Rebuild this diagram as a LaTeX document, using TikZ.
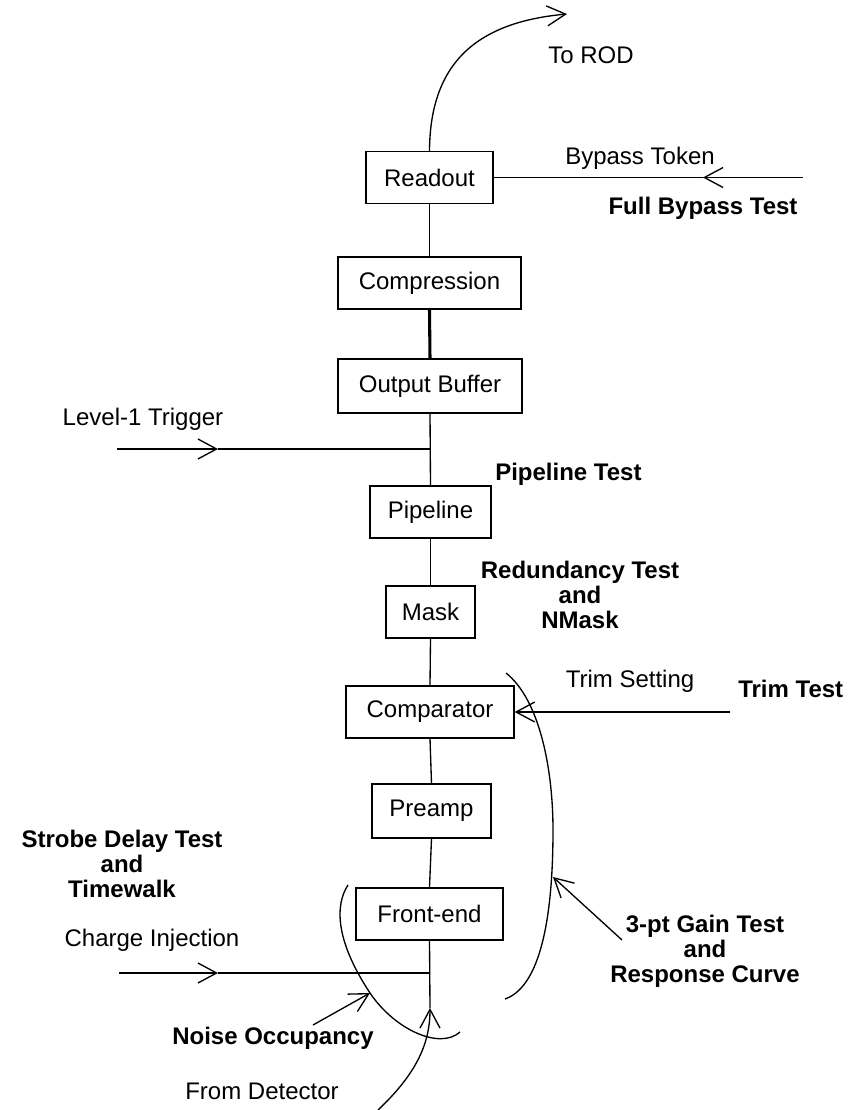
\documentclass[tikz,border=0pt]{standalone}
\usepackage{fontspec}
\setmainfont{Liberation Sans}
\usetikzlibrary{arrows.meta}
\begin{document}
\begin{tikzpicture}[x=0.75pt,y=-0.75pt,
  every node/.style={font=\fontsize{18}{20}\selectfont},
  box/.style={draw,line width=1pt,inner sep=0pt,minimum height=52*0.75pt},
  wire/.style={line width=1pt},
  thickwire/.style={line width=2.3pt},
  barb/.style={wire,-{Straight Barb[length=14pt,width=15pt,line width=1pt]}},
  lbl/.style={anchor=base,inner sep=0pt},
  blbl/.style={lbl,font=\fontsize{18}{20}\selectfont\bfseries}]
\useasboundingbox (0,0) rectangle (855,1110);

% boxes
\node[box,minimum width=127*0.75pt] (readout) at (429.5,177.5) {Readout};
\node[box,minimum width=183*0.75pt] (compression) at (429.5,283) {Compression};
\node[box,minimum width=184*0.75pt,minimum height=54*0.75pt] (outbuf) at (430,386) {Output Buffer};
\node[box,minimum width=121*0.75pt] (pipeline) at (430.5,512) {Pipeline};
\node[box,minimum width=89*0.75pt] (mask) at (430.5,612) {Mask};
\node[box,minimum width=168*0.75pt] (comparator) at (430,712) {Comparator};
\node[box,minimum width=119*0.75pt,minimum height=54*0.75pt] (preamp) at (431.5,811) {Preamp};
\node[box,minimum width=147*0.75pt] (frontend) at (429.5,914) {Front-end};

% coordinates
\coordinate (rod) at (567,14);
\coordinate (bypassEnd) at (803,177.5);
\coordinate (bypassMid) at (703,177.5);
\coordinate (l1start) at (117,449);
\coordinate (l1mid) at (218,449);
\coordinate (l1join) at (430,449);
\coordinate (ciStart) at (119,973);
\coordinate (ciMid) at (218,973);
\coordinate (ciJoin) at (430,973);
\coordinate (detStart) at (378,1110);
\coordinate (detTip) at (430,1008);
\coordinate (trimStart) at (730,712);
\coordinate (noiseFrom) at (313,1025);
\coordinate (noiseTip) at (370,993);
\coordinate (gainFrom) at (622,940);
\coordinate (gainTip) at (553,877);

% main chain
\draw[barb] (readout.north) .. controls (430,60) and (480,22) .. (rod);
\draw[barb] (bypassEnd) -- (bypassMid);
\draw[wire] (bypassMid) -- (readout.east);
\draw[wire] (readout.south) -- (compression.north);
\draw[thickwire] (compression.south) -- (outbuf.north);
\draw[wire] (outbuf.south) -- (pipeline.north);
\draw[barb] (l1start) -- (l1mid);
\draw[wire] (l1mid) -- (l1join);
\draw[wire] (pipeline.south) -- (mask.north);
\draw[wire] (mask.south) -- (comparator.north);
\draw[wire] (comparator.south) -- (preamp.north);
\draw[wire] (preamp.south) -- (frontend.north);
\draw[wire] (frontend.south) -- (detTip);
\draw[barb] (ciStart) -- (ciMid);
\draw[wire] (ciMid) -- (ciJoin);
\draw[barb] (detStart) .. controls (415,1075) and (430,1045) .. (detTip);
\draw[barb] (trimStart) -- (comparator.east);

% test ranges (arcs)
\draw[wire] (348,885) .. controls (335,905) and (335,940) .. (370,993)
  .. controls (395,1030) and (440,1050) .. (460,1032);
\draw[barb] (noiseFrom) -- (noiseTip);
\draw[wire] (506,673) .. controls (540,700) and (553,770) .. (553,830)
  .. controls (553,900) and (545,985) .. (505,999);
\draw[barb] (gainFrom) -- (gainTip);

% labels
\node[lbl] (torod) at (591,63) {To ROD};
\node[lbl] (bypasstok) at (640,164) {Bypass Token};
\node[blbl] (fullbypass) at (703,214) {Full Bypass Test};
\node[lbl] (level1) at (143,425) {Level-1 Trigger};
\node[blbl,anchor=base west] (pipetest) at (495,480) {Pipeline Test};
\node[blbl] (red1) at (580,578) {Redundancy Test};
\node[blbl] (red2) at (580,603) {and};
\node[blbl] (red3) at (580,628) {NMask};
\node[lbl] (trimset) at (630,687) {Trim Setting};
\node[blbl,anchor=base west] (trimtest) at (738,697) {Trim Test};
\node[blbl] (strobe1) at (122,847) {Strobe Delay Test};
\node[blbl] (strobe2) at (122,872) {and};
\node[blbl] (strobe3) at (122,897) {Timewalk};
\node[lbl] (chargeinj) at (152,946) {Charge Injection};
\node[blbl] (noiseocc) at (273,1044) {Noise Occupancy};
\node[lbl] (fromdet) at (262,1099) {From Detector};
\node[blbl] (gain1) at (705,932) {3-pt Gain Test};
\node[blbl] (gain2) at (705,957) {and};
\node[blbl] (gain3) at (705,982) {Response Curve};
\end{tikzpicture}
\end{document}
